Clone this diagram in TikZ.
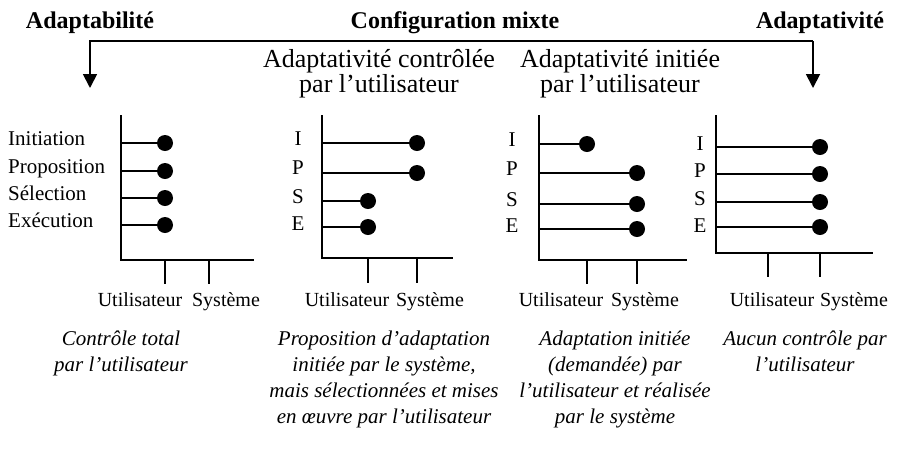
\documentclass[tikz,border=0pt]{standalone}
\usepackage{fontspec}
\setmainfont{Liberation Serif}
\usetikzlibrary{arrows.meta}

\begin{document}
\begin{tikzpicture}[x=1pt,y=-1pt,
    axis/.style={line width=1.8pt},
    stem/.style={line width=1.4pt},
    dot/.style={circle,fill=black,inner sep=0pt,minimum size=16pt},
    txt/.style={inner sep=0pt,anchor=base,font=\fontsize{21}{25}\selectfont},
    tick/.style={inner sep=0pt,anchor=base,font=\fontsize{20}{24}\selectfont},
    head/.style={inner sep=0pt,anchor=base,font=\fontsize{24}{26}\selectfont\bfseries},
    sub/.style={inner sep=0pt,anchor=base,align=center,font=\fontsize{26}{25}\selectfont},
    legend/.style={inner sep=0pt,anchor=base,align=center,font=\fontsize{21}{26}\selectfont\itshape}]
    \useasboundingbox (0,0) rectangle (899,451);

    \node[head] (adabil) at (90,28) {Adaptabilité};
    \node[head] (mixte) at (455,28) {Configuration mixte};
    \node[head] (adativ) at (820,28) {Adaptativité};
    \coordinate (lt) at (90,41);
    \coordinate (rt) at (813,41);
    \coordinate (lb) at (90,88);
    \coordinate (rb) at (813,88);
    \draw[line width=1.8pt,-{Triangle[length=14pt,width=14pt]}] (rb |- rt) -- (lt) -- (lb);
    \draw[line width=1.8pt,-{Triangle[length=14pt,width=14pt]}] (rt) -- (rb);

    \node[sub] (ctrl) at (379,92) {Adaptativité contrôlée\\par l’utilisateur};
    \node[sub] (init) at (620,92) {Adaptativité initiée\\par l’utilisateur};

    \coordinate (t1) at (121,115);
    \coordinate (o1) at (121,260);
    \coordinate (e1) at (254,260);
    \draw[axis] (t1) -- (o1) -- (e1);
    \draw[axis] (165,260) coordinate (u1) -- (165,284) coordinate (u1b);
    \draw[axis] (209,260) coordinate (s1) -- (209,284) coordinate (s1b);
    \node[dot] (d1i) at (165,143) {};
    \node[dot] (d1p) at (165,171) {};
    \node[dot] (d1s) at (165,198) {};
    \node[dot] (d1e) at (165,225) {};
    \draw[stem] (t1 |- d1i) -- (d1i);
    \draw[stem] (t1 |- d1p) -- (d1p);
    \draw[stem] (t1 |- d1s) -- (d1s);
    \draw[stem] (t1 |- d1e) -- (d1e);
    \node[txt,anchor=base west] (l1i) at (8,145) {Initiation};
    \node[txt,anchor=base west] (l1p) at (8,173) {Proposition};
    \node[txt,anchor=base west] (l1s) at (8,200) {Sélection};
    \node[txt,anchor=base west] (l1e) at (8,227) {Exécution};
    \node[tick] (ut1) at (140,306) {Utilisateur};
    \node[tick] (sy1) at (226,306) {Système};
    \node[legend] (c1) at (121,371) {Contrôle total\\par l’utilisateur};

    \coordinate (t2) at (322,115);
    \coordinate (o2) at (322,258);
    \coordinate (e2) at (453,258);
    \draw[axis] (t2) -- (o2) -- (e2);
    \draw[axis] (368,258) coordinate (u2) -- (368,283) coordinate (u2b);
    \draw[axis] (417,258) coordinate (s2) -- (417,283) coordinate (s2b);
    \node[dot] (d2i) at (417,143) {};
    \node[dot] (d2p) at (417,173) {};
    \node[dot] (d2s) at (368,201) {};
    \node[dot] (d2e) at (368,227) {};
    \draw[stem] (t2 |- d2i) -- (d2i);
    \draw[stem] (t2 |- d2p) -- (d2p);
    \draw[stem] (t2 |- d2s) -- (d2s);
    \draw[stem] (t2 |- d2e) -- (d2e);
    \node[txt] (l2i) at (298,145) {I};
    \node[txt] (l2p) at (298,174) {P};
    \node[txt] (l2s) at (298,203) {S};
    \node[txt] (l2e) at (298,230) {E};
    \node[tick] (ut2) at (347,306) {Utilisateur};
    \node[tick] (sy2) at (430,306) {Système};
    \node[legend] (c2) at (384,423) {Proposition d’adaptation\\initiée par le système,\\mais sélectionnées et mises\\en œuvre par l’utilisateur};

    \coordinate (t3) at (539,115);
    \coordinate (o3) at (539,260);
    \coordinate (e3) at (687,260);
    \draw[axis] (t3) -- (o3) -- (e3);
    \draw[axis] (587,260) coordinate (u3) -- (587,284) coordinate (u3b);
    \draw[axis] (637,260) coordinate (s3) -- (637,284) coordinate (s3b);
    \node[dot] (d3i) at (587,144) {};
    \node[dot] (d3p) at (637,173) {};
    \node[dot] (d3s) at (637,204) {};
    \node[dot] (d3e) at (637,229) {};
    \draw[stem] (t3 |- d3i) -- (d3i);
    \draw[stem] (t3 |- d3p) -- (d3p);
    \draw[stem] (t3 |- d3s) -- (d3s);
    \draw[stem] (t3 |- d3e) -- (d3e);
    \node[txt] (l3i) at (512,146) {I};
    \node[txt] (l3p) at (512,175) {P};
    \node[txt] (l3s) at (512,206) {S};
    \node[txt] (l3e) at (512,232) {E};
    \node[tick] (ut3) at (561,306) {Utilisateur};
    \node[tick] (sy3) at (645,306) {Système};
    \node[legend] (c3) at (615,423) {Adaptation initiée\\(demandée) par\\l’utilisateur et réalisée\\par le système};

    \coordinate (t4) at (716,115);
    \coordinate (o4) at (716,253);
    \coordinate (e4) at (873,253);
    \draw[axis] (t4) -- (o4) -- (e4);
    \draw[axis] (768,253) coordinate (u4) -- (768,277) coordinate (u4b);
    \draw[axis] (820,253) coordinate (s4) -- (820,277) coordinate (s4b);
    \node[dot] (d4i) at (820,147) {};
    \node[dot] (d4p) at (820,174) {};
    \node[dot] (d4s) at (820,202) {};
    \node[dot] (d4e) at (820,227) {};
    \draw[stem] (t4 |- d4i) -- (d4i);
    \draw[stem] (t4 |- d4p) -- (d4p);
    \draw[stem] (t4 |- d4s) -- (d4s);
    \draw[stem] (t4 |- d4e) -- (d4e);
    \node[txt] (l4i) at (700,150) {I};
    \node[txt] (l4p) at (700,177) {P};
    \node[txt] (l4s) at (700,205) {S};
    \node[txt] (l4e) at (700,232) {E};
    \node[tick] (ut4) at (772,306) {Utilisateur};
    \node[tick] (sy4) at (854,306) {Système};
    \node[legend] (c4) at (805,371) {Aucun contrôle par\\l’utilisateur};
\end{tikzpicture}
\end{document}
